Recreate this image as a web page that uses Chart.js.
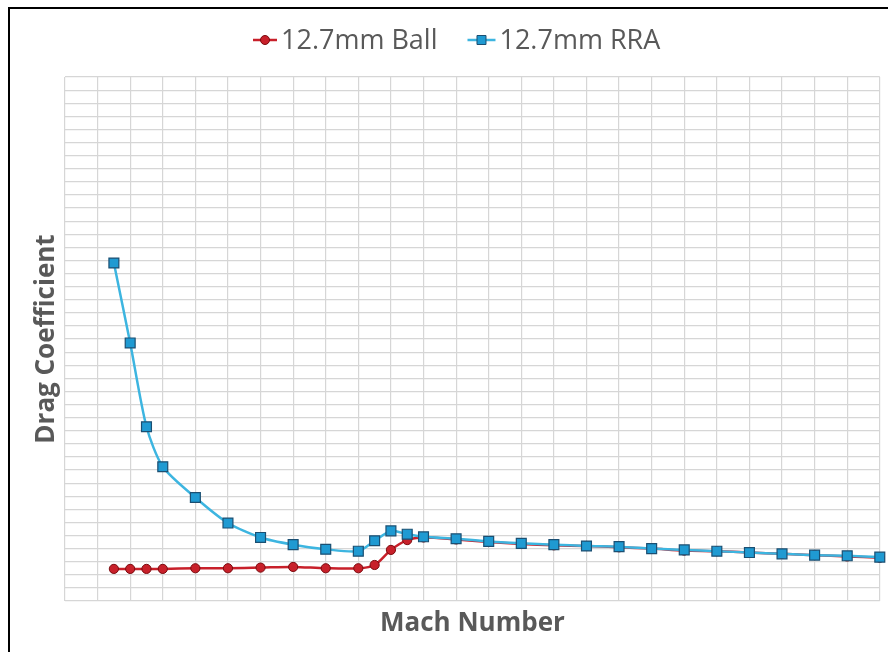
<!DOCTYPE html>
<html>
<head>
<meta charset="utf-8">
<script src="https://cdn.jsdelivr.net/npm/chart.js@4/dist/chart.umd.min.js"></script>
<style>
    html, body { margin: 0; padding: 0; background: #fff; overflow: hidden; }
    #frame {
        position: absolute; left: 8px; top: 7px;
        width: 878px; height: 643px;
        border-left: 2px solid #000; border-top: 2px solid #000;
    }
    #wrap { position: relative; width: 878px; height: 643px; }
</style>
</head>
<body>
<div id="frame"><div id="wrap"><canvas id="dragChart"></canvas></div></div>
<script>
// Mach numbers of the measured points
const machValues = [0.15, 0.2, 0.25, 0.3, 0.4, 0.5, 0.6, 0.7, 0.8, 0.9, 0.95, 1.0, 1.05, 1.1,
    1.2, 1.3, 1.4, 1.5, 1.6, 1.7, 1.8, 1.9, 2.0, 2.1, 2.2, 2.3, 2.4, 2.5];

// Drag coefficient, 12.7mm Ball
const ballCd = [0.049, 0.049, 0.049, 0.049, 0.050, 0.050, 0.051, 0.052, 0.050, 0.050, 0.055, 0.078, 0.093, 0.097,
    0.094, 0.090, 0.087, 0.085, 0.084, 0.082, 0.080, 0.077, 0.076, 0.074, 0.072, 0.070, 0.068, 0.066];

// Drag coefficient, 12.7mm RRA
const rraCd = [0.516, 0.394, 0.266, 0.205, 0.158, 0.119, 0.097, 0.086, 0.079, 0.076, 0.092, 0.107, 0.102, 0.098,
    0.095, 0.091, 0.088, 0.086, 0.084, 0.083, 0.080, 0.078, 0.076, 0.074, 0.072, 0.070, 0.069, 0.067];

const seriesNames = ['12.7mm Ball', '12.7mm RRA'];

const ballColor = '#C8202A';
const ballEdge = '#7A0A0E';
const rraColor = '#3DB5E0';
const rraFill = '#1F9AD2';
const rraEdge = '#1B4F72';
const textGrey = '#595959';

// Légende façon Excel : un bout de trait avec le marqueur au milieu
const lineLegend = {
    id: 'lineLegend',
    afterDraw(chart) {
        const ctx = chart.ctx;
        const items = [
            { text: seriesNames[0], w: 24, color: ballColor, fill: ballColor, edge: ballEdge, style: 'circle' },
            { text: seriesNames[1], w: 28, color: rraColor, fill: rraFill, edge: rraEdge, style: 'rect' }
        ];
        const gap = 4, itemGap = 30, markY = 31, textY = 40;
        ctx.save();
        ctx.font = "27px 'Open Sans'";
        items.forEach(it => { it.tw = ctx.measureText(it.text).width; });
        let x = 243;
        items.forEach(it => {
            ctx.strokeStyle = it.color;
            ctx.lineWidth = 2.5;
            ctx.beginPath();
            ctx.moveTo(x, markY);
            ctx.lineTo(x + it.w, markY);
            ctx.stroke();
            const cx = x + it.w / 2;
            ctx.fillStyle = it.fill;
            ctx.strokeStyle = it.edge;
            ctx.lineWidth = 1;
            ctx.beginPath();
            if (it.style === 'circle') ctx.arc(cx, markY, 4.5, 0, Math.PI * 2);
            else ctx.rect(cx - 4.5, markY - 4.5, 9, 9);
            ctx.fill();
            ctx.stroke();
            ctx.fillStyle = textGrey;
            ctx.textBaseline = 'alphabetic';
            ctx.fillText(it.text, x + it.w + gap, textY);
            x += it.w + gap + it.tw + itemGap;
        });
        ctx.restore();
    }
};

const ctx = document.getElementById('dragChart').getContext('2d');

new Chart(ctx, {
    type: 'line',
    data: {
        datasets: [
            {
                label: seriesNames[0],
                data: machValues.map((m, i) => ({ x: m, y: ballCd[i] })),
                borderColor: ballColor,
                borderWidth: 2.5,
                pointStyle: 'circle',
                pointRadius: 4.6,
                pointBackgroundColor: ballColor,
                pointBorderColor: ballEdge,
                pointBorderWidth: 1,
                tension: 0.3,
                clip: false,
                order: 2
            },
            {
                label: seriesNames[1],
                data: machValues.map((m, i) => ({ x: m, y: rraCd[i] })),
                borderColor: rraColor,
                borderWidth: 2.5,
                pointStyle: 'rect',
                pointRadius: 7,
                pointBackgroundColor: rraFill,
                pointBorderColor: rraEdge,
                pointBorderWidth: 1.2,
                tension: 0.25,
                clip: false,
                order: 1
            }
        ]
    },
    options: {
        responsive: true,
        maintainAspectRatio: false,
        animation: false,
        layout: { padding: { top: 68, left: 21, right: 1, bottom: 13 } },
        plugins: {
            legend: { display: false },
            tooltip: { enabled: false }
        },
        scales: {
            x: {
                type: 'linear',
                min: 0,
                max: 2.5,
                border: { display: false },
                grid: { color: '#d6d6d6', lineWidth: 1.2, drawTicks: false },
                ticks: { display: false, stepSize: 0.1 },
                title: {
                    display: true,
                    text: 'Mach Number',
                    color: textGrey,
                    padding: 0,
                    font: { family: "'Open Sans'", size: 26, weight: 'bold' }
                },
                afterFit: scale => { scale.height = 38; }
            },
            y: {
                type: 'linear',
                min: 0,
                max: 0.8,
                border: { display: false },
                grid: { color: '#d6d6d6', lineWidth: 1.2, drawTicks: false },
                ticks: { display: false, stepSize: 0.02 },
                title: {
                    display: true,
                    text: 'Drag Coefficient',
                    color: textGrey,
                    padding: 0,
                    font: { family: "'Open Sans'", size: 26, weight: 'bold' }
                },
                afterFit: scale => { scale.width = 34; }
            }
        }
    },
    plugins: [lineLegend]
});
</script>
</body>
</html>
